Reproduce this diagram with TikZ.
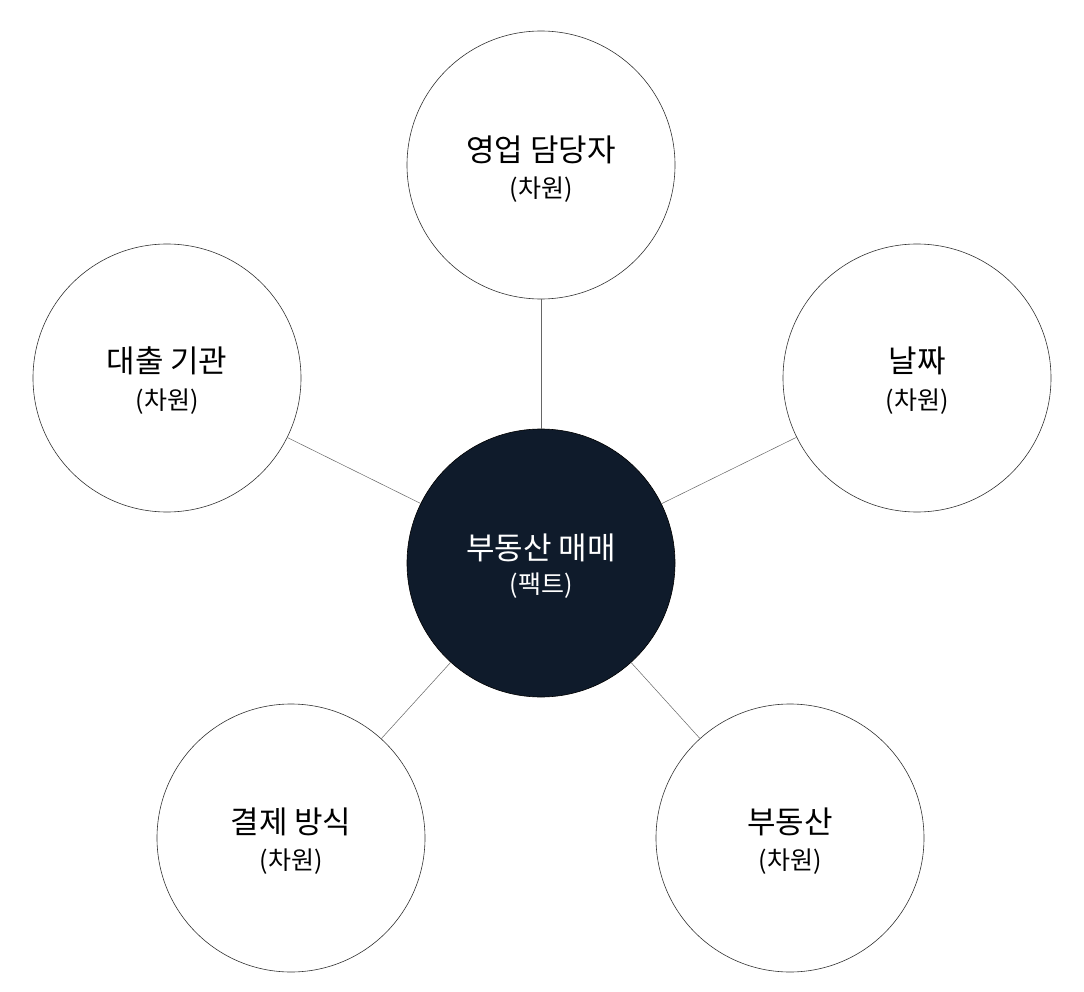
\documentclass[tikz,border=0pt]{standalone}
\usepackage{fontspec}
\setmainfont{Noto Sans CJK KR}
\begin{document}
\begin{tikzpicture}[x=1pt,y=-1pt,
  dim/.style={circle,draw=black!80,line width=0.6pt,fill=white,minimum size=268pt,inner sep=0pt,align=center,text=black!90},
  fact/.style={dim,fill={rgb,255:red,15;green,27;blue,43},draw=black,text=white},
  t/.style={font=\fontsize{31}{36}\selectfont},
  s/.style={font=\fontsize{25}{30}\selectfont},
  link/.style={draw=black!60,line width=0.5pt}]
\useasboundingbox (0,0) rectangle (1084,992);
\node[fact] (f) at (541,563) {};
\node[dim] (a) at (541,165) {};
\node[dim] (b) at (167,378) {};
\node[dim] (c) at (917,378) {};
\node[dim] (d) at (291,838) {};
\node[dim] (e) at (790,838) {};
\foreach \n in {a,b,c,d,e} \draw[link] (f) -- (\n);
\node[t,text=white] at (541,548) {부동산 매매};
\node[s,text=white] at (541,586) {(팩트)};
\node[t] at (541,150) {영업 담당자};
\node[s] at (541,190) {(차원)};
\node[t] at (167,361) {대출 기관};
\node[s] at (167,402) {(차원)};
\node[t] at (917,361) {날짜};
\node[s] at (917,402) {(차원)};
\node[t] at (291,822) {결제 방식};
\node[s] at (291,862) {(차원)};
\node[t] at (790,822) {부동산};
\node[s] at (790,862) {(차원)};
\end{tikzpicture}
\end{document}
